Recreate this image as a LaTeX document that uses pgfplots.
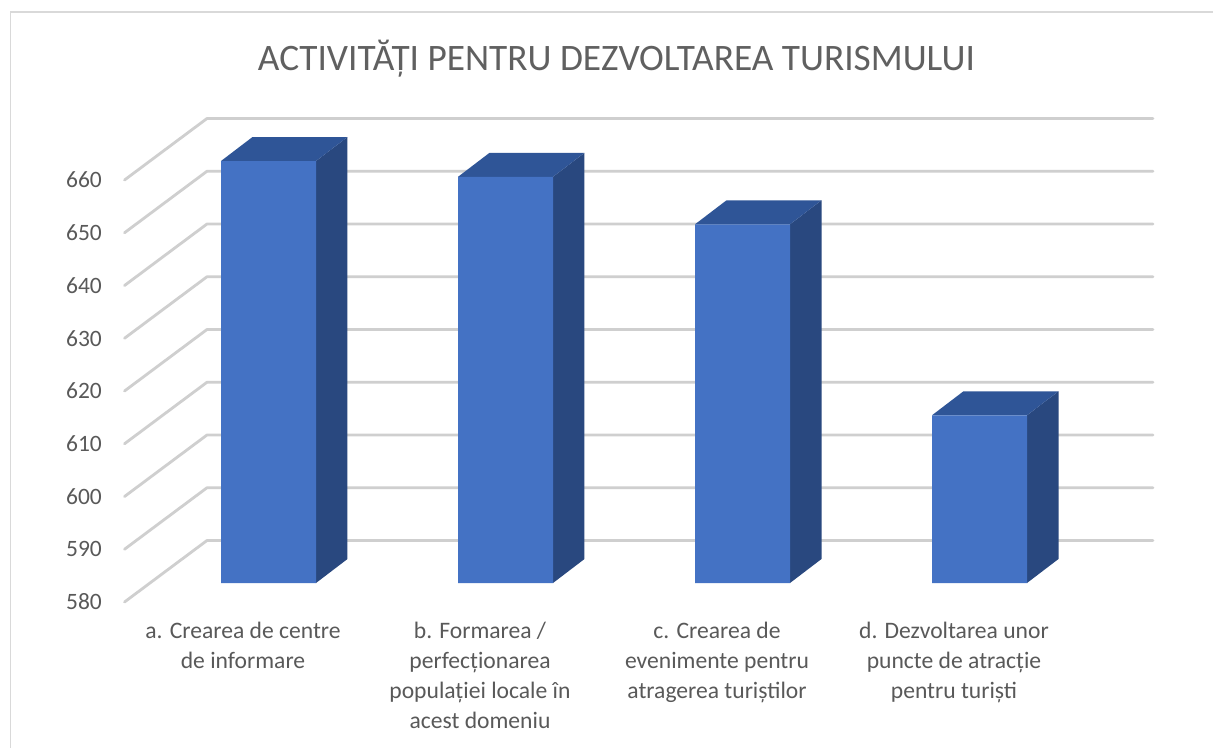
\documentclass[border=0pt]{standalone}
\usepackage{pgfplots}
\pgfplotsset{compat=1.18}
\usepackage{fontspec}
\setmainfont{Carlito}
\definecolor{txt}{HTML}{595959}
\definecolor{titlec}{HTML}{606060}
\definecolor{gridc}{HTML}{CFCFCF}
\definecolor{framec}{HTML}{D9D9D9}
\definecolor{frontc}{HTML}{4472C4}
\definecolor{topc}{HTML}{2F5597}
\definecolor{sidec}{HTML}{29487F}
\begin{document}
\begin{tikzpicture}[x=0.75pt,y=0.75pt]
\path[use as bounding box] (0,0) rectangle (1213,747);
\begin{scope}
\clip (0,0) rectangle (1213,747);
\fill[white] (0,0) rectangle (1213,747);
\draw[draw=framec,line width=1.1pt] (10.5,-20) -- (10.5,735) -- (1225,735);
\end{scope}
\node[text=titlec,font=\fontsize{28}{32}\selectfont,anchor=center] at (616.5,688) {ACTIVITĂȚI PENTRU DEZVOLTAREA TURISMULUI};
\begin{axis}[
  at={(93.375pt,108.75pt)},anchor=south west,
  scale only axis,width=711pt,height=316.5pt,
  xmin=-0.5,xmax=3.5,ymin=580,ymax=660,
  axis line style={draw=none},clip=false,
  xtick={0,1,2,3},
  xticklabels={{a. Crearea de centre\\de informare},{b. Formarea /\\perfecționarea\\populației locale în\\acest domeniu},{c. Crearea de\\evenimente pentru\\atragerea turiștilor},{d. Dezvoltarea unor\\puncte de atracție\\pentru turiști}},
  ytick={580,590,...,660},
  major tick length=0pt,
  /pgf/number format/assume math mode=true,
  yticklabel style={font=\fontsize{17.6}{20}\selectfont,text=txt,anchor=east,xshift=-13.5pt,yshift=0pt},
  xticklabel style={font=\fontsize{17.7}{22.5}\selectfont,text=txt,align=center,anchor=north,yshift=-11.5pt},
]
% side and back wall grid lines
\foreach \v/\b in {580/591.66,590/601.66,600/611.66,610/621.66,620/631.66,630/641.66,640/651.66,650/661.66,660/671.66}{
  \edef\tmp{\noexpand\addplot[gridc,line width=2.1pt,line join=round,line cap=round] coordinates {(-0.5,\v) (-0.152,\b) (3.840,\b)};}
  \tmp
}
% bars: sides, tops, fronts, drawn in the plane of the bar fronts
\pgfplotsset{barplane/.style={xshift=19.125pt,yshift=14.25pt}}
\addplot[barplane,fill=sidec,draw=none] coordinates {(0.2004,580) (0.2004,660) (0.3333,664.55) (0.3333,584.55)} -- cycle;
\addplot[barplane,fill=topc,draw=none] coordinates {(-0.2004,660) (0.2004,660) (0.3333,664.55) (-0.0675,664.55)} -- cycle;
\addplot[barplane,fill=sidec,draw=none] coordinates {(1.2004,580) (1.2004,657) (1.3333,661.55) (1.3333,584.55)} -- cycle;
\addplot[barplane,fill=topc,draw=none] coordinates {(0.7996,657) (1.2004,657) (1.3333,661.55) (0.9325,661.55)} -- cycle;
\addplot[barplane,fill=sidec,draw=none] coordinates {(2.2004,580) (2.2004,648) (2.3333,652.55) (2.3333,584.55)} -- cycle;
\addplot[barplane,fill=topc,draw=none] coordinates {(1.7996,648) (2.2004,648) (2.3333,652.55) (1.9325,652.55)} -- cycle;
\addplot[barplane,fill=sidec,draw=none] coordinates {(3.2004,580) (3.2004,611.8) (3.3333,616.35) (3.3333,584.55)} -- cycle;
\addplot[barplane,fill=topc,draw=none] coordinates {(2.7996,611.8) (3.2004,611.8) (3.3333,616.35) (2.9325,616.35)} -- cycle;
\addplot[barplane,ybar,bar width=71.25pt,bar shift=0pt,fill=frontc,draw=none] coordinates {(0,660) (1,657) (2,648) (3,611.8)};
\end{axis}
\end{tikzpicture}
\end{document}
